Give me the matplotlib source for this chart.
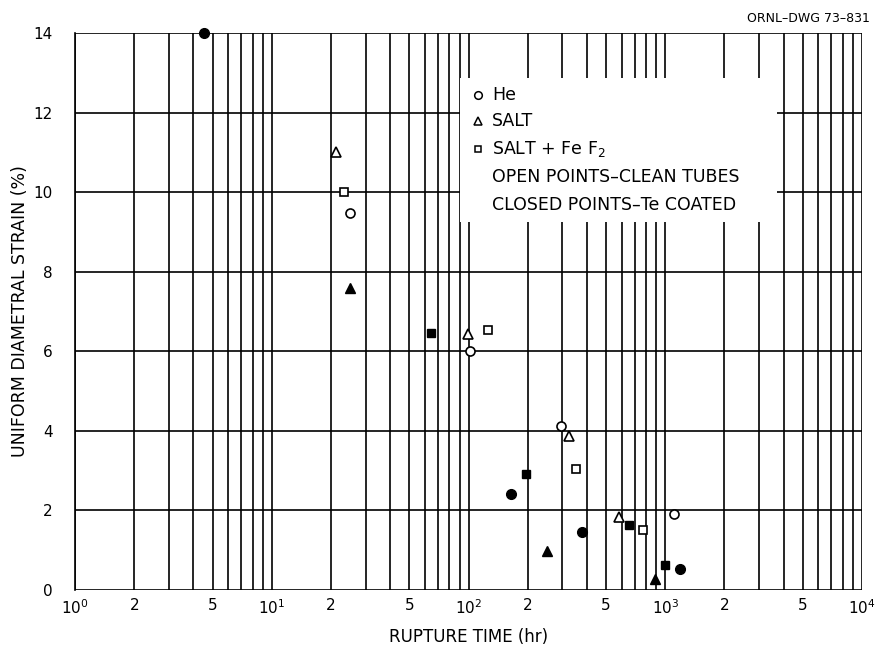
import matplotlib
matplotlib.use("Agg")
import matplotlib.pyplot as plt
from matplotlib.patches import Rectangle

# Rupture time (hr) and uniform diametral strain (%) for each test group
he_clean_t = [25.0, 102, 295, 1107]
he_clean_s = [9.47, 6.0, 4.12, 1.9]
he_te_t = [4.5, 164, 377, 1188]
he_te_s = [14.0, 2.41, 1.47, 0.54]

salt_clean_t = [21.2, 99.4, 324, 582]
salt_clean_s = [11.0, 6.43, 3.87, 1.84]
salt_te_t = [25.0, 251, 887]
salt_te_s = [7.59, 0.97, 0.27]

fef2_clean_t = [23.3, 125.6, 352, 771]
fef2_clean_s = [10.0, 6.53, 3.04, 1.51]
fef2_te_t = [64.5, 196, 655, 997]
fef2_te_s = [6.46, 2.91, 1.63, 0.62]

x_ticks = [1, 2, 5, 10, 20, 50, 100, 200, 500, 1000, 2000, 5000, 10000]
x_tick_labels = ["$10^0$", "2", "5", "$10^1$", "2", "5", "$10^2$", "2", "5",
                 "$10^3$", "2", "5", "$10^4$"]
y_ticks = [0, 2, 4, 6, 8, 10, 12, 14]

legend_labels = ["He", "SALT", "SALT + Fe F$_2$"]
legend_notes = ["OPEN POINTS\u2013CLEAN TUBES", "CLOSED POINTS\u2013Te COATED"]

plt.rcParams["font.family"] = ["DejaVu Sans"]

fig = plt.figure(figsize=(8.89, 6.56), dpi=100)
ax = fig.add_axes([0.0844, 0.1006, 0.8852, 0.8491])
ax.set_xscale("log")
ax.set_xlim(1, 1e4)
ax.set_ylim(0, 14)

# Full log grid: a line at every 1..9 multiple of each decade
grid_x = [m * 10 ** d for d in range(4) for m in range(1, 10)] + [1e4]
for gx in grid_x:
    ax.axvline(gx, color="black", lw=1.2, zorder=1)
for gy in y_ticks:
    ax.axhline(gy, color="black", lw=1.2, zorder=1)

for sp in ax.spines.values():
    sp.set_visible(False)
ax.spines["left"].set_visible(True)
ax.spines["left"].set_linewidth(1.2)

ax.set_xticks(x_ticks)
ax.set_xticklabels(x_tick_labels)
ax.xaxis.set_minor_locator(matplotlib.ticker.NullLocator())
ax.set_yticks(y_ticks)
ax.tick_params(axis="both", length=0, labelsize=11)
ax.tick_params(axis="x", pad=6)
ax.tick_params(axis="y", pad=16)

mk = dict(linestyle="none", color="black", zorder=4, clip_on=False)
op = dict(markerfacecolor="white", markeredgewidth=1.2)
ax.plot(he_clean_t, he_clean_s, "o", markersize=6.5, **op, **mk)
ax.plot(he_te_t, he_te_s, "o", markersize=7, **mk)
ax.plot(salt_clean_t, salt_clean_s, "^", markersize=6.5, **op, **mk)
ax.plot(salt_te_t, salt_te_s, "^", markersize=7, **mk)
ax.plot(fef2_clean_t, fef2_clean_s, "s", markersize=5.5, **op, **mk)
ax.plot(fef2_te_t, fef2_te_s, "s", markersize=6, **mk)

ax.set_xlabel("RUPTURE TIME (hr)", fontsize=12, labelpad=8)
ax.set_ylabel("UNIFORM DIAMETRAL STRAIN (%)", fontsize=12.5, labelpad=3)

# Key panel sitting over the grid
ax.add_patch(Rectangle((0.489, 0.661), 0.403, 0.258, transform=ax.transAxes,
                       facecolor="white", edgecolor="none", zorder=2))
key_y = [0.889, 0.842, 0.792]
key_markers = [("o", 5.5), ("^", 5.5), ("s", 4.5)]
for (m, ms), yy, lab in zip(key_markers, key_y, legend_labels):
    ax.plot([0.512], [yy], m, transform=ax.transAxes, markersize=ms,
            markerfacecolor="white", markeredgecolor="black",
            markeredgewidth=1.1, zorder=3)
    ax.text(0.530, yy, lab, transform=ax.transAxes, fontsize=12.5,
            va="center", ha="left", zorder=3)
for yy, note in zip([0.741, 0.691], legend_notes):
    ax.text(0.530, yy, note, transform=ax.transAxes, fontsize=12.5,
            va="center", ha="left", zorder=3)

fig.text(0.978, 0.982, "ORNL\u2013DWG 73\u2013831", fontsize=9,
         ha="right", va="top")

fig.savefig("out.png", dpi=100, facecolor="white")
